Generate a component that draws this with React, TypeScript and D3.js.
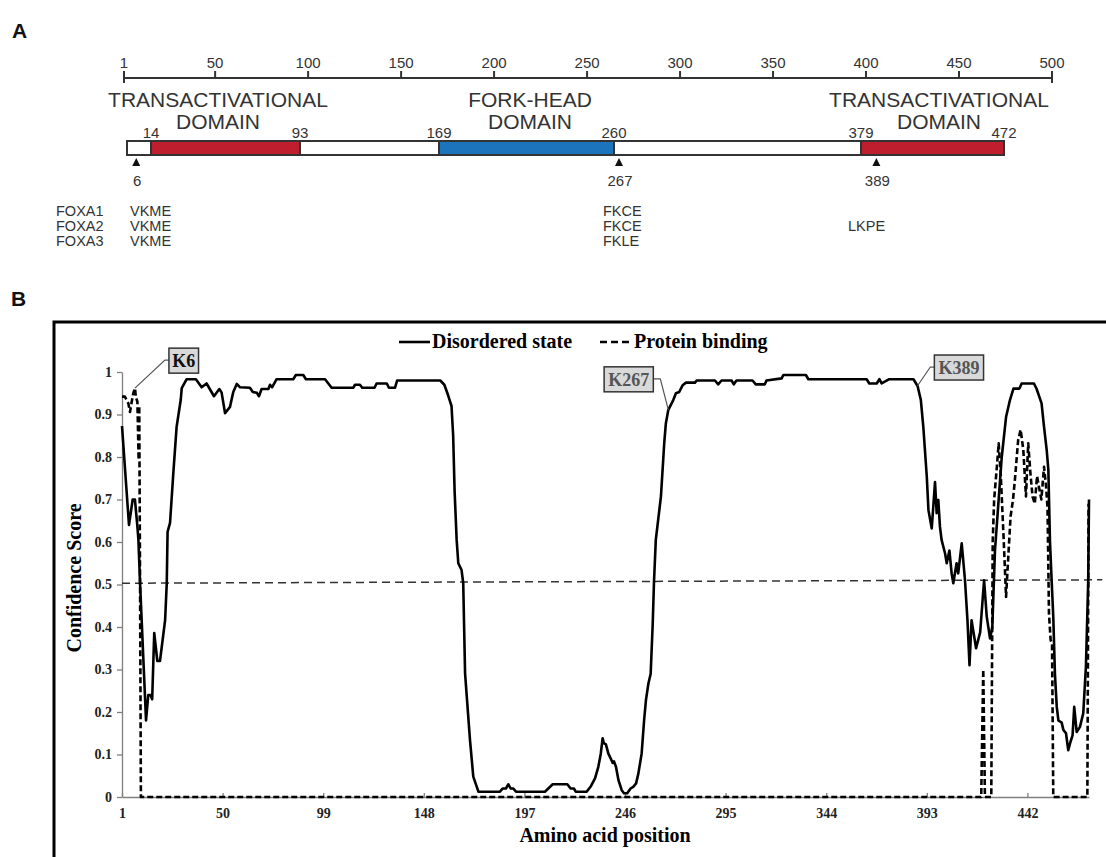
import React, { useEffect, useRef } from 'react';
import * as d3 from 'd3';

// ---- panel A: FOXA domain map ----
const rulerTicks = [1, 50, 100, 150, 200, 250, 300, 350, 400, 450, 500];
const domainStart = [1, 14, 93, 169, 260, 379];
const domainEnd = [14, 93, 169, 260, 379, 472];
const domainKind = ['none', 'trans', 'none', 'fork', 'none', 'trans'];
const domainNames = [
  ['TRANSACTIVATIONAL', 'DOMAIN'],
  ['FORK-HEAD', 'DOMAIN'],
  ['TRANSACTIVATIONAL', 'DOMAIN'],
];
const boundaryLabels = [14, 93, 169, 260, 379, 472];
const sites = [6, 267, 389];
const proteins = ['FOXA1', 'FOXA2', 'FOXA3'];
const siteMotifs = [
  ['VKME', 'VKME', 'VKME'],
  ['FKCE', 'FKCE', 'FKLE'],
  ['', 'LKPE', ''],
];

// ---- panel B: disorder prediction ----
const xTicks = [1, 50, 99, 148, 197, 246, 295, 344, 393, 442];
const yTicks = [0, 0.1, 0.2, 0.3, 0.4, 0.5, 0.6, 0.7, 0.8, 0.9, 1];

const disorderPos = [
  1, 4.4, 6.2, 7.3, 8.5, 9, 9.8, 12.7, 13.8, 14.9, 15.7, 16.7, 18.2, 19.5, 22, 22.8, 23.2, 24.4, 26, 27.6,
  29.6, 30.1, 32.5, 37, 39.8, 42.2, 45.8, 48.4, 49.5, 51.2, 53.6, 55.2, 56.9, 58.5, 63.3, 64.7, 66.7, 67.7,
  69, 72.3, 73.1, 74.1, 76.3, 84.4, 85.7, 89.3, 90.6, 99.9, 103.1, 113.7, 114.5, 116.9, 118, 124, 125, 130,
  131, 134, 135, 156, 158, 159.5, 160.5, 161.5, 162.3, 163, 164, 164.8, 166.4, 167.2, 168.1, 170.5, 172.1,
  174.6, 185.1, 186.4, 188, 189.2, 190.3, 191.6, 192.9, 207, 209.5, 210.8, 217.9, 219.5, 221.1, 222, 227.3,
  229.2, 231.4, 233, 234.2, 235.1, 235.7, 236.7, 237.9, 239, 240, 240.6, 241.6, 242.8, 244.4, 245.5, 247.1,
  248.7, 250, 251.4, 252.5, 254.1, 255.3, 256.2, 257.4, 258.5, 259.5, 260.1, 261, 263.5, 265.1, 265.9,
  267.1, 269.5, 270.8, 272.4, 274.1, 275.7, 280.1, 280.9, 289.8, 291.4, 293, 297.9, 299, 300.3, 308.1,
  309.7, 314.1, 314.9, 322.3, 323.1, 334.1, 335.3, 363.7, 365, 368.6, 369.9, 371, 374.7, 386.5, 388.5,
  390.1, 391.3, 393, 393.8, 395.4, 397, 397.8, 398.6, 399.4, 400.2, 401.9, 402.7, 404, 405.1, 405.9, 407.5,
  408.3, 410, 411.6, 412.8, 413.8, 414.8, 417, 419, 420.9, 422.2, 423.8, 424.9, 426.2, 429.5, 431.6, 433.5,
  435.2, 438.1, 439.2, 445.2, 446.5, 448.9, 450.1, 451.4, 452.2, 453, 453.8, 454.6, 455.4, 456.3, 457.1,
  458.7, 459.5, 460.8, 461.9, 463, 464, 464.8, 466, 467.6, 469.2, 470.5, 471.6, 472,
];
const disorderVal = [
  0.873, 0.64, 0.7, 0.7, 0.636, 0.605, 0.503, 0.18, 0.24, 0.24, 0.23, 0.386, 0.32, 0.32, 0.416, 0.503, 0.624,
  0.645, 0.762, 0.871, 0.934, 0.962, 0.983, 0.983, 0.964, 0.973, 0.943, 0.96, 0.952, 0.903, 0.918, 0.953,
  0.972, 0.964, 0.963, 0.953, 0.951, 0.943, 0.96, 0.96, 0.97, 0.964, 0.983, 0.983, 0.993, 0.993, 0.983, 0.983,
  0.963, 0.963, 0.97, 0.97, 0.963, 0.963, 0.973, 0.973, 0.963, 0.963, 0.98, 0.98, 0.97, 0.95, 0.935, 0.92,
  0.85, 0.72, 0.605, 0.55, 0.534, 0.503, 0.291, 0.134, 0.048, 0.0125, 0.0125, 0.02, 0.02, 0.03, 0.02, 0.02,
  0.0125, 0.0125, 0.024, 0.03, 0.03, 0.02, 0.02, 0.0125, 0.0125, 0.024, 0.044, 0.071, 0.102, 0.138, 0.127,
  0.124, 0.102, 0.091, 0.08, 0.084, 0.071, 0.04, 0.016, 0.009, 0.009, 0.02, 0.024, 0.032, 0.055, 0.102, 0.18,
  0.228, 0.267, 0.29, 0.408, 0.503, 0.605, 0.707, 0.832, 0.879, 0.911, 0.934, 0.95, 0.953, 0.969, 0.975,
  0.975, 0.98, 0.98, 0.971, 0.98, 0.98, 0.971, 0.98, 0.98, 0.971, 0.971, 0.98, 0.985, 0.993, 0.993, 0.983,
  0.983, 0.973, 0.973, 0.983, 0.973, 0.983, 0.983, 0.967, 0.934, 0.871, 0.753, 0.675, 0.632, 0.741, 0.668,
  0.699, 0.636, 0.605, 0.573, 0.55, 0.58, 0.526, 0.503, 0.55, 0.526, 0.597, 0.51, 0.416, 0.31, 0.416, 0.35,
  0.388, 0.51, 0.424, 0.373, 0.4, 0.58, 0.8, 0.894, 0.934, 0.961, 0.961, 0.973, 0.973, 0.96, 0.926, 0.871,
  0.816, 0.77, 0.6, 0.51, 0.424, 0.29, 0.212, 0.18, 0.175, 0.158, 0.15, 0.11, 0.13, 0.145, 0.212, 0.153,
  0.165, 0.197, 0.307, 0.503, 0.7,
];

const bindingPos = [
  1, 2.4, 4.1, 4.9, 5.7, 6.5, 7.3, 7.8, 8.5, 9.1, 9.4, 9.8, 10.2, 419.5, 420.5, 421.3, 424.4, 425.1, 425.8,
  427, 428, 429, 430.5, 431.6, 432.5, 433.8, 435, 435.9, 437.5, 438.7, 440, 441.3, 442.4, 443.5, 444.5,
  445.6, 446.7, 447.6, 448.8, 450.1, 451.1, 451.8, 452.5, 453.3, 454, 454.6, 471.2, 471.8,
];
const bindingVal = [
  0.942, 0.942, 0.926, 0.906, 0.929, 0.95, 0.962, 0.94, 0.93, 0.793, 0.92, 0.5, 0, 0, 0.3, 0, 0, 0.6, 0.7,
  0.77, 0.832, 0.76, 0.6, 0.471, 0.55, 0.66, 0.7, 0.746, 0.84, 0.864, 0.817, 0.707, 0.832, 0.76, 0.707, 0.69,
  0.755, 0.73, 0.7, 0.777, 0.73, 0.68, 0.432, 0.37, 0.36, 0, 0, 0.69,
];

const thresholdPos = [1, 478.5];
const thresholdVal = [0.503, 0.511];

const lysines = ['K6', 'K267', 'K389'];
const lysinePos = [7.3, 267.1, 388.4];
const lysineVal = [0.962, 0.911, 0.967];

const SANS = '"Liberation Sans", Arial, sans-serif';
const SERIF = '"Liberation Serif", "Times New Roman", serif';

function drawPanelA(svg) {
  const g = svg.append('g');
  const ink = '#333';

  g.append('text').attr('x', 12).attr('y', 38).text('A')
    .style('font-family', SANS).style('font-weight', 'bold').style('font-size', '21px').style('fill', '#111');

  // ruler
  const ruler = d3.scaleLinear().domain([1, 500]).range([124, 1052]);
  g.append('line')
    .attr('x1', ruler(1)).attr('x2', ruler(500)).attr('y1', 78).attr('y2', 78)
    .attr('stroke', ink).attr('stroke-width', 2);
  rulerTicks.forEach((t, i) => {
    const end = i === 0 || i === rulerTicks.length - 1;
    g.append('line')
      .attr('x1', ruler(t)).attr('x2', ruler(t))
      .attr('y1', end ? 83 : 78).attr('y2', 71)
      .attr('stroke', ink).attr('stroke-width', 2);
    g.append('text').attr('x', ruler(t)).attr('y', 68).attr('text-anchor', 'middle').text(t)
      .style('font-family', SANS).style('font-size', '15px').style('fill', ink);
  });

  // protein bar (schematic, not to ruler scale)
  const bar = d3.scaleLinear()
    .domain([1, 14, 93, 169, 260, 267, 379, 472])
    .range([127, 151, 300, 439, 614, 619, 861, 1004]);
  const fill = { none: '#ffffff', trans: '#be1e2d', fork: '#1c75bc' };
  const barTop = 141, barH = 14;
  g.selectAll('rect.seg')
    .data(domainStart)
    .join('rect')
    .attr('class', 'seg')
    .attr('x', (d) => bar(d))
    .attr('y', barTop)
    .attr('width', (d, i) => bar(domainEnd[i]) - bar(d))
    .attr('height', barH)
    .attr('fill', (d, i) => fill[domainKind[i]])
    .attr('stroke', ink)
    .attr('stroke-width', 2);

  g.selectAll('text.bnd')
    .data(boundaryLabels)
    .join('text')
    .attr('class', 'bnd')
    .attr('x', (d) => bar(d))
    .attr('y', barTop - 3)
    .attr('text-anchor', 'middle')
    .text((d) => d)
    .style('font-family', SANS).style('font-size', '15px').style('fill', ink);

  // domain titles
  const titleX = [218, 530, 939];
  domainNames.forEach((lines, i) => {
    lines.forEach((s, j) => {
      g.append('text').attr('x', titleX[i]).attr('y', 107 + j * 22).attr('text-anchor', 'middle').text(s)
        .style('font-family', SANS).style('font-size', '21px').style('fill', ink);
    });
  });

  // lysine sites
  sites.forEach((s) => {
    const cx = bar(s);
    g.append('path')
      .attr('d', `M${cx - 4},${barTop + barH + 11} L${cx + 4},${barTop + barH + 11} L${cx},${barTop + barH + 3} Z`)
      .attr('fill', '#111');
    g.append('text').attr('x', cx + 1).attr('y', 186).attr('text-anchor', 'middle').text(s)
      .style('font-family', SANS).style('font-size', '15px').style('fill', ink);
  });

  const motifX = [130, 603, 848];
  proteins.forEach((p, r) => {
    const y = 216 + r * 15;
    g.append('text').attr('x', 56).attr('y', y).text(p)
      .style('font-family', SANS).style('font-size', '14.5px').style('fill', ink);
    siteMotifs.forEach((m, k) => {
      if (!m[r]) return;
      g.append('text').attr('x', motifX[k]).attr('y', y).text(m[r])
        .style('font-family', SANS).style('font-size', '14.5px').style('fill', ink);
    });
  });
}

function drawPanelB(svg) {
  const g = svg.append('g');

  g.append('text').attr('x', 11).attr('y', 306).text('B')
    .style('font-family', SANS).style('font-weight', 'bold').style('font-size', '21px').style('fill', '#111');

  g.append('rect')
    .attr('x', 54).attr('y', 322).attr('width', 1200).attr('height', 700)
    .attr('fill', 'none').attr('stroke', '#000').attr('stroke-width', 3);

  const x = d3.scaleLinear().domain([1, 472]).range([122, 1089]);
  const y = d3.scaleLinear().domain([0, 1]).range([797, 372]);

  // y axis
  const yAxis = g.append('g').attr('transform', `translate(${x(1)},0)`)
    .call(d3.axisLeft(y).tickValues(yTicks).tickSize(5).tickSizeOuter(0).tickPadding(5)
      .tickFormat((d) => (d === 0 || d === 1 ? String(d) : d3.format('.1f')(d))));
  yAxis.select('.domain').attr('stroke', '#7f7f7f').attr('stroke-width', 1.3);
  yAxis.selectAll('.tick line').attr('stroke', '#7f7f7f').attr('stroke-width', 1.3);
  yAxis.selectAll('.tick text')
    .style('font-family', SERIF).style('font-weight', 'bold').style('font-size', '14px').style('fill', '#222');

  // x axis
  const xAxis = g.append('g').attr('transform', `translate(0,${y(0)})`)
    .call(d3.axisBottom(x).tickValues(xTicks).tickSize(-4).tickSizeOuter(0).tickPadding(11));
  xAxis.select('.domain').attr('stroke', '#7f7f7f').attr('stroke-width', 1.3);
  xAxis.selectAll('.tick line').attr('stroke', '#7f7f7f').attr('stroke-width', 1.3);
  xAxis.selectAll('.tick text')
    .style('font-family', SERIF).style('font-weight', 'bold').style('font-size', '14px').style('fill', '#222');

  const line = d3.line().x((d) => x(d[0])).y((d) => y(d[1]));

  g.append('path')
    .datum(d3.zip(thresholdPos, thresholdVal))
    .attr('d', line)
    .attr('fill', 'none').attr('stroke', '#333').attr('stroke-width', 1.5).attr('stroke-dasharray', '8,5');

  g.append('path')
    .datum(d3.zip(bindingPos, bindingVal))
    .attr('d', line)
    .attr('fill', 'none').attr('stroke', '#000').attr('stroke-width', 2.6)
    .attr('stroke-dasharray', '6,3').attr('stroke-linejoin', 'round');

  g.append('path')
    .datum(d3.zip(disorderPos, disorderVal))
    .attr('d', line)
    .attr('fill', 'none').attr('stroke', '#000').attr('stroke-width', 2.6).attr('stroke-linejoin', 'round');

  // legend
  const lg = g.append('g').style('font-family', SERIF).style('font-weight', 'bold').style('font-size', '20px');
  lg.append('line').attr('x1', 399).attr('x2', 430).attr('y1', 342).attr('y2', 342)
    .attr('stroke', '#000').attr('stroke-width', 2.6);
  lg.append('text').attr('x', 432).attr('y', 348).text('Disordered state');
  lg.append('line').attr('x1', 600).attr('x2', 631).attr('y1', 342).attr('y2', 342)
    .attr('stroke', '#000').attr('stroke-width', 2.6).attr('stroke-dasharray', '7,4');
  lg.append('text').attr('x', 634).attr('y', 348).text('Protein binding');

  // axis titles
  g.append('text')
    .attr('transform', `translate(81,578) rotate(-90)`)
    .attr('text-anchor', 'middle').text('Confidence Score')
    .style('font-family', SERIF).style('font-weight', 'bold').style('font-size', '20px');
  g.append('text')
    .attr('x', 605).attr('y', 842).attr('text-anchor', 'middle').text('Amino acid position')
    .style('font-family', SERIF).style('font-weight', 'bold').style('font-size', '20px');

  // lysine callouts: box offset relative to the anchor point on the curve
  const callout = [
    { dx: 34, dy: -40, side: 'right', color: '#111' },
    { dx: -15, dy: -43, side: 'left', color: '#555' },
    { dx: 17, dy: -31, side: 'right', color: '#555' },
  ];
  lysines.forEach((k, i) => {
    const ax = x(lysinePos[i]);
    const ay = y(lysineVal[i]);
    const c = callout[i];
    const w = 10 + k.length * 9.8;
    const h = 25;
    const left = c.side === 'right' ? ax + c.dx : ax + c.dx - w;
    const top = ay + c.dy;
    const midY = top + 12;
    const edge = c.side === 'right' ? left : left + w;
    const elbow = c.side === 'right' ? edge - 4 : edge + 7;
    g.append('path')
      .attr('d', `M${ax},${ay} L${elbow},${midY} L${edge},${midY}`)
      .attr('fill', 'none').attr('stroke', '#555').attr('stroke-width', 1.2);
    g.append('rect').attr('x', left).attr('y', top).attr('width', w).attr('height', h)
      .attr('fill', '#d9d9d9').attr('stroke', '#333').attr('stroke-width', 1.5);
    g.append('text').attr('x', left + w / 2).attr('y', top + 19).attr('text-anchor', 'middle').text(k)
      .style('font-family', SERIF).style('font-weight', 'bold').style('font-size', '18px').style('fill', c.color);
  });
}

export default function App() {
  const ref = useRef(null);

  useEffect(() => {
    const svg = d3.select(ref.current);
    svg.selectAll('*').remove();
    svg.append('rect').attr('width', 1106).attr('height', 857).attr('fill', '#fff');
    drawPanelA(svg);
    drawPanelB(svg);
  }, []);

  return (
    <svg
      ref={ref}
      width={1106}
      height={857}
      style={{ position: 'absolute', left: 0, top: 0, display: 'block' }}
    />
  );
}
